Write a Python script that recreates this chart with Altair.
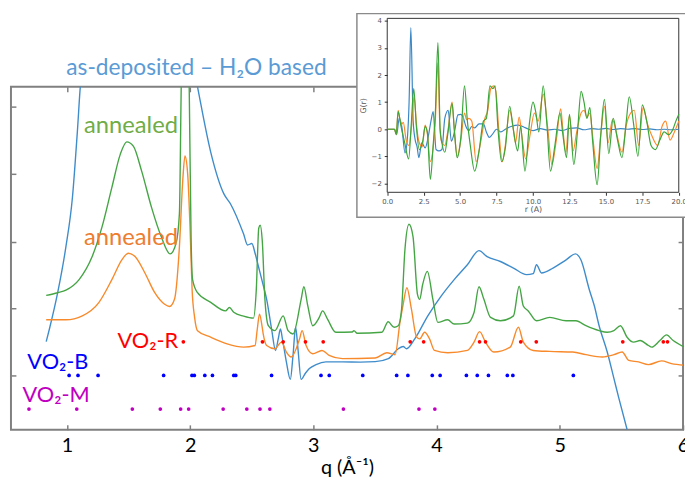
import altair as alt
import pandas as pd

# ---------------- main panel data (q in 1/A, intensity in arbitrary units) ----------------
blue_q = [0.832, 0.858, 0.925, 0.992, 1.045, 1.085, 1.112, 1.219, 1.419, 1.659, 1.86, 1.98, 2.06,
          2.167, 2.274, 2.327, 2.434, 2.466, 2.501, 2.527, 2.557, 2.595, 2.621, 2.661, 2.693, 2.715,
          2.733, 2.749, 2.781, 2.813, 2.835, 2.856, 2.875, 2.901, 2.934, 2.968, 3.022, 3.102, 3.236,
          3.382, 3.502, 3.609, 3.689, 3.729, 3.756, 3.823, 3.929, 4.037, 4.143, 4.25, 4.344, 4.41,
          4.518, 4.624, 4.731, 4.784, 4.811, 4.851, 4.945, 5.051, 5.127, 5.171, 5.239, 5.279, 5.319,
          5.385, 5.439, 5.479, 5.546, 5.586]
blue_i = [89.3, 102, 138.7, 185.3, 235.3, 302, 352, 420, 470, 480, 450, 400, 347,
          281, 238.7, 228.7, 198, 187, 188.5, 178.7, 164, 145.3, 132, 102, 80.3, 92,
          102, 92, 68.7, 51, 75.3, 103.7, 82, 51, 57, 62, 66, 68.7, 68.7,
          68.5, 69, 72, 82, 84.3, 82, 92, 115.3, 135.3, 152, 167, 181.3, 175.3,
          170.3, 163.7, 157, 158, 167, 158.7, 163.7, 172, 178, 172, 142, 126, 105.3,
          78.7, 52, 32, 0.3, -18]

green_q = [0.832, 0.925, 0.992, 1.099, 1.205, 1.285, 1.365, 1.433, 1.486, 1.539, 1.606, 1.686, 1.766,
           1.838, 1.886, 1.913, 1.926, 1.94, 1.96, 1.98, 1.994, 2.008, 2.02, 2.06, 2.167, 2.287,
           2.319, 2.354, 2.434, 2.514, 2.537, 2.557, 2.569, 2.585, 2.607, 2.635, 2.688, 2.755, 2.795,
           2.835, 2.901, 2.923, 2.955, 2.995, 3.048, 3.075, 3.115, 3.182, 3.316, 3.329, 3.356, 3.556,
           3.607, 3.655, 3.689, 3.716, 3.743, 3.776, 3.809, 3.845, 3.863, 3.887, 3.925, 3.97, 4.01,
           4.09, 4.143, 4.25, 4.304, 4.344, 4.384, 4.438, 4.518, 4.624, 4.67, 4.704, 4.744, 4.811,
           4.918, 5.051, 5.131, 5.212, 5.319, 5.385, 5.439, 5.492, 5.546, 5.599, 5.652, 5.72, 5.746,
           5.812, 5.866, 5.92, 6.01]
green_i = [136, 138.7, 141.3, 152, 175.3, 205.3, 245.3, 278.7, 291.3, 287, 262, 225.3, 195.3,
           178, 188.7, 218.7, 332, 452, 512, 452, 332, 192, 152, 138.7, 129, 120.3,
           123.7, 119, 115, 113, 142, 204, 207, 192, 132, 105.3, 100.3, 115.3, 100.3,
           97, 132, 144.7, 125.3, 105.3, 113.7, 120.3, 112, 98.7, 99, 100.3, 97.7, 98.7,
           109.3, 103.7, 105.3, 122, 182, 208, 195.3, 137, 132, 147, 160.3, 132, 108.7,
           111.3, 107, 108, 118.7, 144.7, 132, 113.7, 110.3, 115.3, 145.3, 125.3, 120.3, 110.3,
           113.7, 110.3, 110.3, 105.3, 100.3, 98.7, 100.3, 105.3, 93.7, 88.7, 90.3, 85.3, 83.7,
           90.3, 96, 90.3, 83.7]

orange_q = [0.832, 0.992, 1.125, 1.259, 1.365, 1.446, 1.499, 1.553, 1.633, 1.713, 1.793, 1.833, 1.873,
            1.913, 1.94, 1.958, 1.98, 2.0, 2.016, 2.036, 2.06, 2.167, 2.3, 2.434, 2.527, 2.545,
            2.563, 2.581, 2.593, 2.621, 2.688, 2.741, 2.781, 2.821, 2.888, 2.909, 2.941, 2.995, 3.07,
            3.128, 3.236, 3.502, 3.596, 3.663, 3.703, 3.729, 3.759, 3.796, 3.837, 3.863, 3.903, 3.943,
            3.983, 4.09, 4.25, 4.304, 4.349, 4.397, 4.464, 4.598, 4.664, 4.704, 4.784, 4.918, 5.105,
            5.212, 5.345, 5.439, 5.506, 5.559, 5.639, 5.72, 5.826, 5.906, 6.01]
orange_i = [111.3, 111.3, 115.3, 128.7, 152, 172, 178.7, 175.3, 158.7, 138.7, 127, 124.7, 132,
            185.3, 252, 277, 259, 202, 142, 114, 100.3, 93.7, 87, 83.7, 85.3, 102,
            117, 107, 97, 85.3, 82, 88.7, 78.7, 73.7, 92, 100.3, 85.3, 77, 80.3,
            75.3, 72, 72.7, 78, 76, 108.7, 127, 143.7, 122, 94, 92, 98.7, 92,
            80.3, 78, 80.3, 88.7, 99.3, 88.7, 78.7, 83.7, 103.7, 88.7, 80.3, 79.3, 78.7,
            76, 73.7, 76, 78.7, 70.3, 68.7, 66, 69.7, 67, 65.3]

# reference reflections
vo2_r_q = [1.945, 2.587, 2.755, 2.936, 3.08, 3.786, 3.895, 4.349, 4.397, 4.683, 4.809, 5.511, 5.84, 5.874]
vo2_b_q = [1.018, 1.09, 1.253, 1.785, 2.015, 2.034, 2.119, 2.181, 2.354, 2.37, 2.661, 3.062, 3.129,
           3.401, 3.676, 3.767, 3.965, 4.029, 4.242, 4.33, 4.421, 4.574, 4.619, 5.11]
vo2_m_q = [0.692, 1.08, 1.531, 1.758, 1.923, 1.988, 2.268, 2.46, 2.567, 2.647, 3.244, 3.857, 3.986]
row_level = {"R": 89, "B": 55, "M": 21}

# annotations
ann_text = ["as-deposited \u2013 H\u2082O based", "annealed", "annealed", "VO\u2082-R", "VO\u2082-B", "VO\u2082-M"]
ann_q = [0.995, 1.139, 1.139, 1.411, 0.679, 0.64]
ann_i = [366, 307, 194, 90, 69, 35]
ann_size = [23, 24, 24, 22, 22, 22]
ann_col = ["#5b9bd5", "#70ad47", "#ed7d31", "#ff0000", "#0000ff", "#c000c0"]

# ---------------- inset data: G(r) ----------------
in_blue_r = [0, 0.5, 0.65, 0.82, 1.0, 1.22, 1.4, 1.5, 1.62, 1.78, 1.92, 2.05, 2.17, 2.37, 2.6, 2.82,
             3.0, 3.15, 3.35, 3.55, 3.75, 3.95, 4.18, 4.4, 4.62, 4.85, 5.05, 5.2, 5.4, 5.6, 5.8, 6.0,
             6.3, 6.6, 6.8, 7.0, 7.2, 7.5, 7.8, 8.1, 8.5, 9.0, 9.5, 10.0, 10.5, 11.0, 11.5, 12.0,
             12.5, 13.0, 13.5, 14.0, 14.5, 15.0, 15.5, 16.0, 16.5, 17.0, 17.5, 18.0, 18.5, 19.0,
             19.5, 20.0]
in_blue_g = [0, 0, -0.2, 0.4, 0.1, -0.87, -0.2, 1.0, 3.75, 0.3, -0.4, -0.65, -1.05, -0.5, -0.69, -0.26,
             0.3, 0.65, -0.75, -0.8, -0.75, 0.4, 0.7, -0.44, -0.08, 0.53, 0.55, 0.45, 0.1, -0.05, 0.1, 0.05,
             0.2, 0.2, -0.1, -0.3, -0.2, 0.0, -0.1, 0.0, 0.1, 0.15, 0.05, -0.05, 0.02, -0.03, 0.0, -0.05,
             0.03, 0.05, -0.02, 0.02, 0.0, 0.03, -0.01, 0.02, 0.0, 0.02, -0.01, 0.01, -0.02, 0.0,
             -0.02, 0.0]

in_orange_r = [0, 0.5, 0.62, 0.75, 0.95, 1.1, 1.3, 1.5, 1.65, 1.85, 2.0, 2.2, 2.4, 2.6, 2.75, 2.95,
               3.15, 3.3, 3.47, 3.62, 3.75, 3.95, 4.15, 4.45, 4.6, 4.8, 5.05, 5.3, 5.45, 5.6, 5.8,
               6.1, 6.4, 6.7, 6.9, 7.1, 7.3, 7.45, 7.65, 7.9, 8.1, 8.4, 8.6, 8.8, 9.05, 9.25, 9.5,
               9.8, 10.1, 10.35, 10.7, 11.0, 11.3, 11.6, 11.9, 12.05, 12.25, 12.5, 12.75, 13.0, 13.3,
               13.5, 13.7, 13.9, 14.1, 14.4, 14.65, 14.9, 15.15, 15.45, 15.75, 16.1, 16.4, 16.7,
               16.95, 17.25, 17.55, 17.85, 18.2, 18.55, 18.85, 19.1, 19.4, 19.7, 20.0]
in_orange_g = [0, 0, -0.2, 0.7, 0.15, 0.25, -0.4, -0.6, 0.0, 1.2, 0.2, -0.5, -0.65, 0.15, -0.15, -1.2,
               -0.7, 0.3, 2.45, 0.0, -0.5, -0.6, -0.1, 1.0, 0.0, -1.0, -0.4, 0.6, 0.35, 0.4, 0.3,
               -1.2, -0.5, 0.4, 0.7, 1.5, 1.6, 1.4, 0.0, -1.2, -0.6, 0.7, 0.2, -0.5, 0.45, -0.3, -1.1,
               -0.2, 0.6, 0.3, 1.3, 0.1, -1.3, -0.4, 0.75, 0.0, -0.85, 0.5, -0.8, -0.1, 0.6,
               0.7, 0.45, 0.6, -0.3, -1.45, -0.2, 0.85, -0.5, 0.35, -0.2, -0.85, 0.15, 0.6,
               0.7, -0.6, 0.8, 0.2, -0.3, -0.6, 0.1, 0.3, -0.4, -0.1, 0.3]

in_green_r = [0, 0.5, 0.62, 0.75, 0.95, 1.2, 1.47, 1.65, 1.82, 2.0, 2.2, 2.45, 2.6, 2.75, 2.96, 3.15,
              3.3, 3.48, 3.63, 3.75, 3.95, 4.15, 4.45, 4.6, 4.8, 5.05, 5.3, 5.5, 5.7, 6.0, 6.3, 6.6,
              6.8, 7.05, 7.25, 7.4, 7.6, 7.85, 8.1, 8.4, 8.65, 8.95, 9.15, 9.45, 9.75, 10.0, 10.2,
              10.4, 10.7, 10.95, 11.2, 11.5, 11.85, 12.05, 12.3, 12.5, 12.8, 13.05, 13.3, 13.5, 13.7,
              13.9, 14.1, 14.4, 14.65, 14.9, 15.2, 15.5, 15.8, 16.1, 16.4, 16.6, 16.9, 17.2, 17.5,
              17.8, 18.1, 18.4, 18.7, 19.0, 19.3, 19.6, 19.8, 20.0]
in_green_g = [0, 0, -0.2, 0.65, 0.1, -0.5, -1.1, 0.2, 1.5, 0.1, -0.75, -0.4, 0.1, -0.1, -1.85, -0.6,
              0.6, 3.2, 0.0, -0.5, -0.85, -0.2, 0.95, 0.0, -1.05, -0.3, 1.6, 0.3, -0.6, -1.55, -0.8, 0.3,
              0.4, 1.6, 1.5, 1.6, 0.0, -1.2, -0.7, 0.85, 0.0, -0.8, 0.1, -1.55, 0.2, 1.0, 0.6,
              -0.1, 1.6, 0.2, -1.55, -0.6, 0.6, -0.2, -1.05, 0.55, -1.3, -0.1, 1.4, 1.0, 0.4,
              0.8, -0.5, -2.05, -0.2, 1.1, -0.9, 0.4, -0.4, -1.05, 0.3, 1.2, 0.2, -1.0, 0.9,
              0.3, -0.6, -0.75, -0.4, -0.1, -0.2, 0.0, 0.3, 0.55]

# ---------------- tables ----------------
lines_df = pd.concat([
    pd.DataFrame({"q": blue_q, "I": blue_i, "s": "as-deposited"}),
    pd.DataFrame({"q": orange_q, "I": orange_i, "s": "annealed 1"}),
    pd.DataFrame({"q": green_q, "I": green_i, "s": "annealed 2"}),
])
dots_df = pd.concat([
    pd.DataFrame({"q": vo2_r_q, "I": row_level["R"], "c": "#ff0000"}),
    pd.DataFrame({"q": vo2_b_q, "I": row_level["B"], "c": "#0000ff"}),
    pd.DataFrame({"q": vo2_m_q, "I": row_level["M"], "c": "#c000c0"}),
])
ann_df = pd.DataFrame({"q": ann_q, "I": ann_i, "t": ann_text, "c": ann_col, "fs": ann_size})
inset_df = pd.concat([
    pd.DataFrame({"r": in_blue_r, "G": in_blue_g, "s": "as-deposited"}),
    pd.DataFrame({"r": in_orange_r, "G": in_orange_g, "s": "annealed 1"}),
    pd.DataFrame({"r": in_green_r, "G": in_green_g, "s": "annealed 2"}),
])
frame_ticks_df = pd.DataFrame({"q": [1, 2, 3, 4, 5, 6], "I": [55, 123, 190, 259, 327, 327]})
inset_box_df = pd.DataFrame({"r": [-2.08], "r2": [20.6], "G": [-3.25], "G2": [4.27]})
inset_frame_df = pd.DataFrame({"r": [0.0], "r2": [20.0], "G": [-2.33], "G2": [4.095]})

FONT = "Lato"
TICKC = "#7f7f7f"
Q_DOM = [0.546, 6.0]
I_DOM = [0, 347]
I_TICKS = [55, 123, 190, 259, 327]

xq = alt.Scale(domain=Q_DOM, nice=False, zero=False)
yi = alt.Scale(domain=I_DOM, nice=False, zero=False)

x_axis = alt.Axis(orient="bottom", offset=-5, domain=False, tickSize=5, tickColor=TICKC, tickWidth=1.5,
                  values=[1, 2, 3, 4, 5, 6], labelFont=FONT, labelFontSize=20, labelColor="black",
                  labelPadding=6, labelFlush=False, labelOverlap=False, grid=False,
                  title="q (\u00c5\u207b\u00b9)", titleFont=FONT, titleFontSize=20,
                  titleFontWeight="normal", titleColor="black", titlePadding=2)
y_axis = alt.Axis(orient="left", offset=-5, domain=False, tickSize=5, tickColor=TICKC, tickWidth=1.5,
                  values=I_TICKS, labels=False, grid=False, title="")
X = alt.X("q:Q", scale=xq, axis=x_axis)
Y = alt.Y("I:Q", scale=yi, axis=y_axis)

color_main = alt.Color("s:N", legend=None,
                       scale=alt.Scale(domain=["as-deposited", "annealed 1", "annealed 2"],
                                       range=["#3f8ccb", "#f88a2c", "#45a545"]))

main_lines = alt.Chart(lines_df).mark_line(strokeWidth=1.4, clip=True, interpolate="monotone").encode(
    x=X, y=Y, color=color_main)
main_dots = alt.Chart(dots_df).mark_circle(size=14, opacity=1).encode(
    x=X, y=Y, color=alt.Color("c:N", scale=None))
main_text = alt.Chart(ann_df).mark_text(align="left", baseline="middle", font=FONT).encode(
    x=X, y=Y, text="t:N", color=alt.Color("c:N", scale=None),
    size=alt.Size("fs:Q", scale=None, legend=None))
main = alt.layer(main_lines, main_dots, main_text)

# inward ticks on top and right edges of the main frame
frame_ticks = alt.Chart(frame_ticks_df).mark_point(opacity=0).encode(
    x=alt.X("q:Q", scale=alt.Scale(domain=Q_DOM, nice=False, zero=False),
            axis=alt.Axis(orient="top", offset=-5, domain=False, labels=False, tickSize=5,
                          tickColor=TICKC, tickWidth=1.5, values=[1, 2, 3, 4, 5, 6], grid=False, title="")),
    y=alt.Y("I:Q", scale=alt.Scale(domain=I_DOM, nice=False, zero=False),
            axis=alt.Axis(orient="right", offset=-5, domain=False, labels=False, tickSize=5,
                          tickColor=TICKC, tickWidth=1.5, values=I_TICKS, grid=False, title="")))

# ---------------- inset ----------------
xr = alt.Scale(domain=[0, 20], range=[380.7, 675.7], nice=False, zero=False)
yg = alt.Scale(domain=[-2.33, 4.095], range=[106.7, -69.3], nice=False, zero=False)
xr_axis = alt.Axis(orient="bottom", offset=-240.3, domain=False, tickSize=3, tickColor="#333",
                   values=[0, 2.5, 5, 7.5, 10, 12.5, 15, 17.5, 20], format=".1f",
                   labelFont="DejaVu Sans", labelFontSize=7, labelColor="#555", labelPadding=2,
                   labelFlush=False, grid=False, title="r (A)", titleFont="DejaVu Sans", titleFontSize=8,
                   titleFontWeight="normal", titleColor="#555", titlePadding=1, zindex=1)
yg_axis = alt.Axis(orient="left", offset=-380.7, domain=False, tickSize=3, tickColor="#333",
                   values=[-2, -1, 0, 1, 2, 3, 4], labelFont="DejaVu Sans", labelFontSize=7,
                   labelColor="#555", labelPadding=3, labelFlush=False, grid=False, title="G(r)",
                   titleFont="DejaVu Sans", titleFontSize=8, titleFontWeight="normal",
                   titleColor="#555", titlePadding=4, zindex=1)
XR = alt.X("r:Q", scale=xr, axis=xr_axis)
YG = alt.Y("G:Q", scale=yg, axis=yg_axis)

inset_box = alt.Chart(inset_box_df).mark_rect(fill="white", stroke="#8a8a8a", strokeWidth=1.5).encode(
    x=XR, x2="r2:Q", y=YG, y2="G2:Q")
inset_frame = alt.Chart(inset_frame_df).mark_rect(fillOpacity=0, stroke="#333333", strokeWidth=1).encode(
    x=XR, x2="r2:Q", y=YG, y2="G2:Q")
color_in = alt.Color("s:N", legend=None,
                     scale=alt.Scale(domain=["as-deposited", "annealed 1", "annealed 2"],
                                     range=["#3a87c4", "#ff8a2a", "#3aa63a"]))
inset_lines = alt.Chart(inset_df).mark_line(strokeWidth=1.2, interpolate="monotone").encode(
    x=XR, y=YG, color=color_in)
inset = alt.layer(inset_box, inset_frame, inset_lines)

chart = alt.layer(main, frame_ticks, inset).resolve_scale(
    x="independent", y="independent", color="independent", size="independent"
).resolve_axis(x="independent", y="independent").properties(
    width=680, height=347,
    autosize=alt.AutoSizeParams(type="none"),
    padding={"left": 3, "top": 77, "right": 2, "bottom": 48},
).configure_view(stroke="#808080", strokeWidth=2)

chart.save("out.html", embed_options={"renderer": "svg", "actions": False})
